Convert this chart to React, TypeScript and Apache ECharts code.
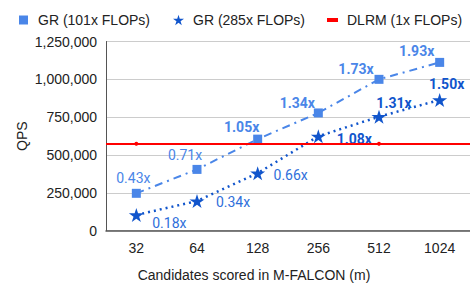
import React, { useEffect, useRef } from "react";
import * as echarts from "echarts";

const categories = ["32", "64", "128", "256", "512", "1024"];
const gr101Values = [247000, 405000, 605000, 778000, 1000000, 1112000];
const gr101Labels = ["0.43x", "0.71x", "1.05x", "1.34x", "1.73x", "1.93x"];
const gr285Values = [104000, 196000, 380000, 624000, 753000, 864000];
const gr285Labels = ["0.18x", "0.34x", "0.66x", "1.08x", "1.31x", "1.50x"];
const dlrmValue = 575000;
const dlrmDots = [575000, "-", "-", "-", 575000, "-"];
const yTicks = [0, 250000, 500000, 750000, 1000000, 1250000];

const gr101Offsets = [[-3, -15], [-12, -14], [-16, -12], [-21, -10], [-23, -10], [-23, -11]];
const gr285Offsets = [[33, 8], [36, 1], [33, 2], [36, 3], [15, -14], [7, -16]];

const STAR = "path://M50,0L61,35L98,35L68,57L79,91L50,70L21,91L32,57L2,35L39,35Z";
const C_LIGHT = "#4A86E8";
const C_DARK = "#1155CC";
const AXIS_FONT = "Liberation Sans, Arial, sans-serif";
const LABEL_FONT = "Roboto, sans-serif";

export default function App() {
  const ref = useRef<HTMLDivElement>(null);
  useEffect(() => {
    if (!ref.current) return;
    const chart = echarts.init(ref.current, null, { renderer: "svg" });
    const fmt = (v: number) => v.toLocaleString("en-US");
    const legendBase = {
      top: 8,
      orient: "horizontal" as const,
      textStyle: { fontFamily: AXIS_FONT, fontSize: 14, color: "#222" },
      selectedMode: false,
    };
    chart.setOption({
      animation: false,
      backgroundColor: "#fff",
      legend: [
        {
          ...legendBase,
          left: 14,
          itemWidth: 9,
          itemHeight: 9,
          data: [{ name: "GR (101x FLOPs)", icon: "rect", itemStyle: { color: C_LIGHT } }],
          textStyle: { ...legendBase.textStyle, padding: [0, 0, 0, 5] },
        },
        {
          ...legendBase,
          left: 168,
          itemWidth: 11,
          itemHeight: 11,
          data: [{ name: "GR (285x FLOPs)", icon: STAR, itemStyle: { color: C_DARK } }],
          textStyle: { ...legendBase.textStyle, padding: [0, 0, 0, 4] },
        },
        {
          ...legendBase,
          left: 322,
          itemWidth: 11,
          itemHeight: 4,
          data: [{ name: "DLRM (1x FLOPs)", icon: "rect", itemStyle: { color: "#FF0000" } }],
          textStyle: { ...legendBase.textStyle, padding: [0, 0, 0, 4] },
        },
      ],
      grid: { left: 106, right: 0, top: 41.5, bottom: 56.3, containLabel: false },
      xAxis: {
        type: "category",
        data: categories,
        boundaryGap: true,
        name: "Candidates scored in M-FALCON (m)",
        nameLocation: "middle",
        nameGap: 37,
        nameMoveOverlap: false,
        nameTextStyle: {
          fontFamily: AXIS_FONT,
          fontSize: 14,
          color: "#222",
          padding: [0, 68, 0, 0],
        },
        axisLine: { lineStyle: { color: "#555", width: 1.5 } },
        axisTick: { show: false },
        axisLabel: { fontFamily: AXIS_FONT, fontSize: 14, color: "#222", margin: 10 },
        splitLine: { show: false },
      },
      yAxis: {
        type: "value",
        min: 0,
        max: 1250000,
        interval: 250000,
        name: "QPS",
        nameLocation: "middle",
        nameGap: 77,
        nameMoveOverlap: false,
        nameTextStyle: { fontFamily: AXIS_FONT, fontSize: 14, color: "#222" },
        axisLine: { show: true, lineStyle: { color: "#555", width: 1 } },
        axisTick: { show: false },
        axisLabel: {
          fontFamily: AXIS_FONT,
          fontSize: 14,
          color: "#222",
          margin: 9,
          formatter: (v: number) => (yTicks.includes(v) ? fmt(v) : ""),
        },
        splitLine: { lineStyle: { color: "#cccccc", width: 1 } },
      },
      series: [
        {
          name: "DLRM (1x FLOPs)",
          type: "line",
          data: dlrmDots,
          symbol: "circle",
          symbolSize: 4,
          itemStyle: { color: "#FF0000" },
          lineStyle: { width: 0, color: "#FF0000" },
          z: 1,
          markLine: {
            silent: true,
            symbol: "none",
            label: { show: false },
            lineStyle: { color: "#FF0000", width: 2, type: "solid" },
            data: [{ yAxis: dlrmValue }],
          },
        },
        {
          name: "GR (101x FLOPs)",
          type: "line",
          z: 3,
          symbol: "rect",
          symbolSize: 9,
          itemStyle: { color: C_LIGHT },
          lineStyle: { color: C_LIGHT, width: 2, type: [8, 5, 2, 5] },
          data: gr101Values.map((v, i) => ({
            value: v,
            label: {
              show: true,
              position: "inside",
              offset: gr101Offsets[i],
              formatter: gr101Labels[i],
              color: C_LIGHT,
              fontFamily: LABEL_FONT,
              fontSize: 14,
              fontWeight: parseFloat(gr101Labels[i]) > 1 ? "bold" : "normal",
            },
          })),
        },
        {
          name: "GR (285x FLOPs)",
          type: "line",
          z: 4,
          symbol: STAR,
          symbolSize: [15, 14],
          itemStyle: { color: C_DARK },
          lineStyle: { color: C_DARK, width: 2.5, type: [2, 4] },
          data: gr285Values.map((v, i) => ({
            value: v,
            label: {
              show: true,
              position: "inside",
              offset: gr285Offsets[i],
              formatter: gr285Labels[i],
              color: parseFloat(gr285Labels[i]) > 1 ? C_DARK : "#2F6FDB",
              fontFamily: LABEL_FONT,
              fontSize: 14,
              fontWeight: parseFloat(gr285Labels[i]) > 1 ? "bold" : "normal",
              backgroundColor: i === 3 ? "#ffffff" : "transparent",
              padding: i === 3 ? [0, 1] : 0,
            },
          })),
        },
      ],
    });
    return () => chart.dispose();
  }, []);
  return (
    <div
      ref={ref}
      style={{ position: "fixed", left: 0, top: 0, width: 470, height: 287 }}
    />
  );
}
